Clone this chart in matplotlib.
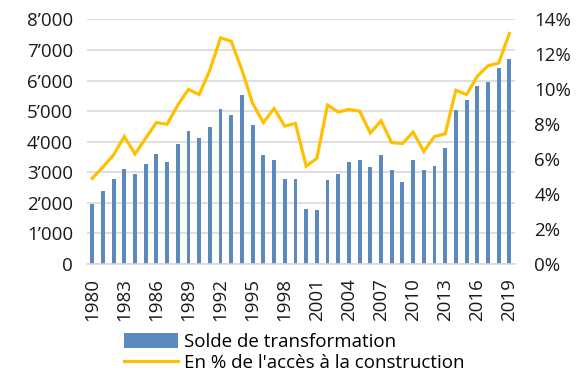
import numpy as np
import matplotlib.pyplot as plt

plt.rcParams['font.family'] = ['Open Sans', 'DejaVu Sans']

# -- Data --
years = list(range(1980, 2020))
solde = [1980, 2390, 2780, 3100, 2940, 3270, 3600, 3350, 3920, 4340,
         4130, 4480, 5070, 4860, 5520, 4540, 3570, 3400, 2780, 2780,
         1810, 1770, 2760, 2930, 3340, 3400, 3190, 3580, 3080, 2680,
         3400, 3080, 3200, 3800, 5040, 5350, 5830, 5960, 6400, 6700]
pct_acces = [4.9, 5.55, 6.25, 7.3, 6.3, 7.2, 8.1, 8.0, 9.1, 10.0,
             9.7, 11.1, 12.95, 12.75, 11.1, 9.2, 8.1, 8.9, 7.9, 8.05,
             5.6, 6.05, 9.1, 8.7, 8.85, 8.75, 7.5, 8.2, 6.95, 6.9,
             7.55, 6.45, 7.3, 7.45, 9.95, 9.7, 10.75, 11.35, 11.5, 13.2]
label_bars = "Solde de transformation"
label_line = "En % de l'accès à la construction"

# -- Figure --
fig = plt.figure(figsize=(5.79, 3.74), dpi=100)
ax = fig.add_axes([0.150, 0.294, 0.739, 0.654])
ax2 = ax.twinx()

bars = ax.bar(years, solde, width=0.36, color='#5b8bbd', zorder=2, label=label_bars)
line, = ax2.plot(years, pct_acces, color='#ffc000', lw=2.3, zorder=3,
                 solid_joinstyle='miter', label=label_line)

ax.set_xlim(1979.5, 2019.5)
ax.set_ylim(0, 8000)
ax2.set_ylim(0, 14)

ax.set_yticks(np.arange(0, 8001, 1000))
ax.set_yticklabels([f"{v:,}".replace(",", "’") for v in range(0, 8001, 1000)])
ax2.set_yticks(np.arange(0, 15, 2))
ax2.set_yticklabels([f"{v}%" for v in range(0, 15, 2)])
ax.set_xticks(years[::3])
ax.set_xticklabels([str(y) for y in years[::3]], rotation=90)

ax.grid(axis='y', color='#d9d9d9', lw=1.2, zorder=0)
ax.set_axisbelow(True)
for a in (ax, ax2):
    for s in a.spines.values():
        s.set_visible(False)
    a.tick_params(length=0, labelsize=13.5, colors='#1a1a1a')
ax.spines['bottom'].set_visible(True)
ax.spines['bottom'].set_color('#d9d9d9')
ax.spines['bottom'].set_linewidth(1.2)
ax.tick_params(axis='y', pad=10)
ax.tick_params(axis='x', pad=10)
ax2.tick_params(axis='y', pad=14)

fig.legend(handles=[bars, line], loc='lower left', bbox_to_anchor=(0.201, -0.015),
           frameon=False, fontsize=13.5, handlelength=2.9, handleheight=0.9,
           labelspacing=0.15, handletextpad=0.3, borderaxespad=0)

fig.savefig('out.png', dpi=100)
